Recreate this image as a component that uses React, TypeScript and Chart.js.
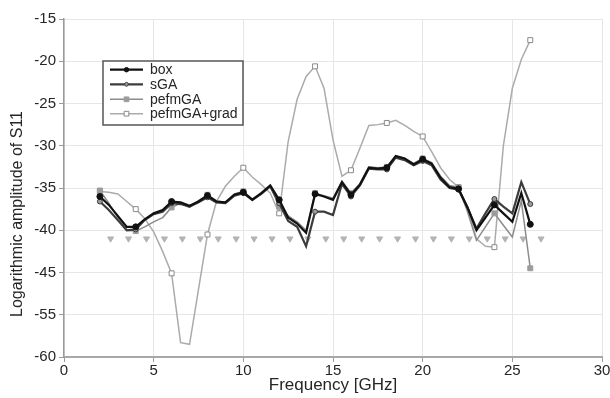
import React, { useEffect, useRef } from 'react';
import { Chart, registerables } from 'chart.js';

Chart.register(...registerables);

const freqs = [
  2, 2.5, 3, 3.5, 4, 4.5, 5, 5.5, 6, 6.5, 7, 7.5, 8, 8.5, 9, 9.5, 10, 10.5, 11, 11.5, 12, 12.5, 13, 13.5,
  14, 14.5, 15, 15.5, 16, 16.5, 17, 17.5, 18, 18.5, 19, 19.5, 20, 20.5, 21, 21.5, 22, 22.5, 23, 23.5, 24,
  24.5, 25, 25.5, 26,
];

const boxValues = [
  -36.0, -37.0, -38.3, -39.6, -39.6, -38.7, -38.0, -37.6, -36.6, -36.7, -37.1, -36.6, -35.9, -36.6, -36.7,
  -35.8, -35.5, -36.4, -35.6, -34.7, -36.4, -38.5, -39.2, -40.3, -35.7, -36.0, -36.4, -34.3, -35.8, -34.6,
  -32.6, -32.7, -32.6, -31.2, -31.5, -32.2, -31.6, -32.1, -33.8, -34.9, -35.1, -37.3, -40.0, -38.5, -37.0,
  -38.0, -39.0, -35.6, -39.3,
];

const sgaValues = [
  -36.6, -37.6, -38.8, -40.0, -39.9, -38.8, -38.1, -37.8, -36.8, -36.9, -37.2, -36.7, -36.1, -36.7, -36.8,
  -35.9, -35.6, -36.4, -35.7, -34.8, -36.8, -38.9, -39.6, -41.9, -37.8, -37.8, -38.2, -34.5, -36.0, -34.7,
  -32.7, -32.8, -32.8, -31.4, -31.7, -32.3, -31.8, -32.3, -34.0, -35.0, -35.2, -37.3, -39.8, -38.0, -36.3,
  -37.2, -38.0, -34.3, -36.9,
];

const pefmgaValues = [
  -35.3, -36.8, -38.5, -40.0, -40.1, -39.6, -39.0, -38.5, -37.3, -36.8, -37.3, -36.5, -35.8, -36.5, -36.7,
  -35.7, -35.4, -36.3, -35.6, -34.8, -37.2, -38.3, -39.0, -40.0, -35.6, -35.9, -36.2, -34.2, -35.6, -34.5,
  -32.5, -32.6, -32.5, -31.2, -31.5, -32.1, -31.5, -32.0, -33.6, -34.7, -34.9, -37.8, -41.2, -39.6, -38.0,
  -39.4, -40.8, -36.5, -44.5,
];

const pefmgaGradValues = [
  -35.4, -35.5, -35.7, -36.6, -37.5, -38.6, -40.2, -42.5, -45.1, -53.3, -53.5, -47.0, -40.5, -36.6, -34.8,
  -33.6, -32.6, -33.7, -34.6, -35.6, -38.0, -29.5, -24.5, -21.8, -20.6, -23.2, -29.3, -33.6, -32.9, -30.3,
  -27.6, -27.5, -27.3, -27.0, -27.6, -28.3, -28.9, -30.7, -32.6, -34.0, -34.9, -37.5, -41.0, -41.9, -42.0,
  -30.0, -23.2, -19.8, -17.5,
];

const markerFreqs = [
  2.6, 3.6, 4.6, 5.6, 6.6, 7.6, 8.6, 9.6, 10.6, 11.6, 12.6, 13.6, 14.6, 15.6, 16.6, 17.6, 18.6, 19.6, 20.6,
  21.6, 22.6, 23.6, 24.6, 25.6, 26.6,
];
const markerLevels = [
  -41, -41, -41, -41, -41, -41, -41, -41, -41, -41, -41, -41, -41, -41, -41, -41, -41, -41, -41, -41, -41,
  -41, -41, -41, -41,
];

const xTickValues = [0, 5, 10, 15, 20, 25, 30];
const yTickValues = [-55, -50, -45, -40, -35, -30, -25, -20, -15];
const yTickLabels = ['-60', '-55', '-45', '-40', '-35', '-30', '-25', '-20', '-15'];
const seriesNames = ['box', 'sGA', 'pefmGA', 'pefmGA+grad'];
const xTitle = 'Frequency [GHz]';
const yTitle = 'Logarithmic amplitude of S11';

const FONT = '"Liberation Sans", Arial, sans-serif';
const TEXT = '#262626';

const styles = [
  { line: '#111111', width: 2.2, shape: 'circle', fill: '#111111', stroke: '#111111', r: 3 },
  { line: '#3c3c3c', width: 2.2, shape: 'circle', fill: '#9a9a9a', stroke: '#3c3c3c', r: 2.5 },
  { line: '#8c8c8c', width: 1.5, shape: 'rect', fill: '#9c9c9c', stroke: '#9c9c9c', r: 3.5 },
  { line: '#ababab', width: 1.5, shape: 'rect', fill: '#ffffff', stroke: '#8a8a8a', r: 3.5 },
];

const seriesValues = [boxValues, sgaValues, pefmgaValues, pefmgaGradValues];

function drawShape(ctx: CanvasRenderingContext2D, st: any, x: number, y: number) {
  ctx.save();
  ctx.fillStyle = st.fill;
  ctx.strokeStyle = st.stroke;
  ctx.lineWidth = 1;
  ctx.beginPath();
  if (st.shape === 'circle') {
    ctx.arc(x, y, st.r, 0, Math.PI * 2);
  } else {
    const s = st.r * 0.9;
    ctx.rect(x - s, y - s, 2 * s, 2 * s);
  }
  ctx.fill();
  ctx.stroke();
  ctx.restore();
}

const overlayPlugin = {
  id: 'overlay',
  afterDraw(chart: any) {
    const ctx: CanvasRenderingContext2D = chart.ctx;
    // legend box
    const left = 103;
    const top = 61;
    const w = 140;
    const h = 64;
    ctx.save();
    ctx.fillStyle = '#ffffff';
    ctx.fillRect(left, top, w, h);
    ctx.strokeStyle = '#555555';
    ctx.lineWidth = 1.5;
    ctx.strokeRect(left, top, w, h);
    const rows = [69.7, 84.3, 99.3, 113.7];
    seriesNames.forEach((name, i) => {
      const st = styles[i];
      const y = rows[i];
      ctx.strokeStyle = st.line;
      ctx.lineWidth = st.width;
      ctx.beginPath();
      ctx.moveTo(110, y);
      ctx.lineTo(143, y);
      ctx.stroke();
      drawShape(ctx, { ...st, r: st.r * 0.75 }, 126.5, y);
      ctx.fillStyle = TEXT;
      ctx.font = `14px ${FONT}`;
      ctx.textAlign = 'left';
      ctx.textBaseline = 'middle';
      ctx.fillText(name, 150, y + 0.5);
    });
    // y title
    ctx.translate(18, 214);
    ctx.rotate(-Math.PI / 2);
    ctx.font = `16px ${FONT}`;
    ctx.fillStyle = TEXT;
    ctx.textAlign = 'center';
    ctx.textBaseline = 'middle';
    ctx.fillText(yTitle, 0, 0);
    ctx.restore();
  },
};

export default function App() {
  const ref = useRef<HTMLCanvasElement>(null);
  useEffect(() => {
    document.body.style.margin = '0';
    const canvas = ref.current;
    if (!canvas) return;
    const lineSets = seriesNames.map((name, i) => {
      const st = styles[i];
      return {
        type: 'line',
        label: name,
        data: freqs.map((f, j) => ({ x: f, y: seriesValues[i][j] })),
        borderColor: st.line,
        borderWidth: st.width,
        tension: 0,
        fill: false,
        pointStyle: st.shape,
        pointRadius: freqs.map((f) => (f % 2 === 0 ? st.r : 0)),
        pointBackgroundColor: st.fill,
        pointBorderColor: st.stroke,
        pointBorderWidth: 1,
      };
    });
    const markerSet = {
      type: 'scatter',
      label: 'markers',
      data: markerFreqs.map((f, j) => ({ x: f, y: markerLevels[j] })),
      showLine: false,
      pointStyle: 'triangle',
      rotation: 180,
      pointRadius: 3.5,
      pointBackgroundColor: '#b4b4b4',
      pointBorderColor: '#b4b4b4',
      pointBorderWidth: 1,
    };
    const chart = new Chart(canvas, {
      type: 'line',
      data: { datasets: [...lineSets, markerSet] as any },
      plugins: [overlayPlugin],
      options: {
        responsive: false,
        animation: false,
        layout: { padding: { left: 0, right: 8, top: 19, bottom: 0 } },
        plugins: { legend: { display: false }, tooltip: { enabled: false } },
        scales: {
          x: {
            type: 'linear',
            min: 0,
            max: 30,
            afterBuildTicks: (scale: any) => {
              scale.ticks = xTickValues.map((v) => ({ value: v }));
            },
            afterFit: (scale: any) => {
              scale.height = 41;
              scale.paddingLeft = 0;
              scale.paddingRight = 0;
            },
            ticks: {
              color: TEXT,
              font: { family: FONT, size: 15 },
              padding: 0,
              maxRotation: 0,
              autoSkip: false,
            },
            grid: { color: '#e6e6e6', lineWidth: 1, tickLength: 5, tickColor: '#9a9a9a' },
            border: { display: true, color: '#a8a8a8', width: 2 },
            title: {
              display: true,
              text: xTitle,
              color: TEXT,
              font: { family: FONT, size: 17 },
              padding: { top: 0, bottom: 2 },
            },
          },
          y: {
            type: 'linear',
            min: -55,
            max: -15,
            afterBuildTicks: (scale: any) => {
              scale.ticks = yTickValues.map((v) => ({ value: v }));
            },
            afterFit: (scale: any) => {
              scale.width = 64;
              scale.paddingTop = 0;
              scale.paddingBottom = 0;
            },
            ticks: {
              color: TEXT,
              font: { family: FONT, size: 15 },
              padding: 3,
              autoSkip: false,
              callback: (value: any) => {
                const idx = yTickValues.indexOf(Number(value));
                return idx >= 0 ? yTickLabels[idx] : '';
              },
            },
            grid: { color: '#e6e6e6', lineWidth: 1, tickLength: 5, tickColor: '#9a9a9a' },
            border: { display: true, color: '#9a9a9a', width: 1.5 },
          },
        },
      } as any,
    });
    return () => chart.destroy();
  }, []);
  return (
    <div style={{ width: 610, height: 398, position: 'relative', background: '#fff' }}>
      <canvas ref={ref} width={610} height={398} style={{ display: 'block' }} />
    </div>
  );
}
